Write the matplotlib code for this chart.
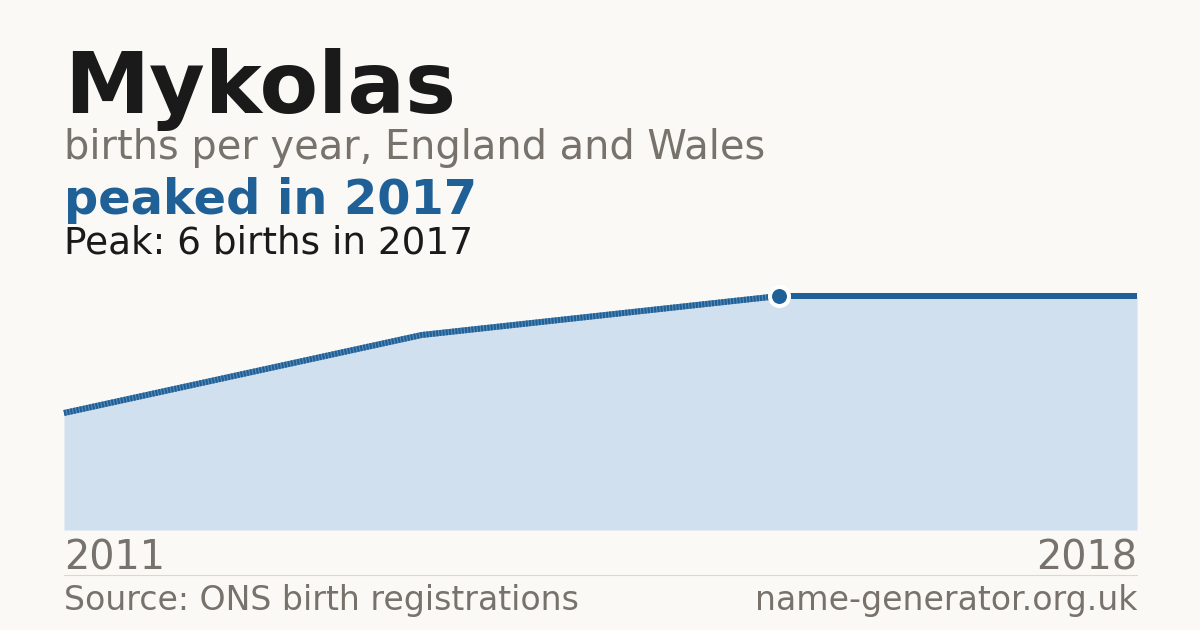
import matplotlib
matplotlib.use("Agg")
import matplotlib.pyplot as plt
from matplotlib.lines import Line2D

plt.rcParams["font.family"] = ["DejaVu Sans"]

# Data
years = [2011, 2014, 2017, 2018]
births = [3, 5, 6, 6]
peak_year = 2017
peak_value = 6
title = "Mykolas"
subtitle = "births per year, England and Wales"
headline = "peaked in 2017"
peak_text = "Peak: 6 births in 2017"
source_text = "Source: ONS birth registrations"
site_text = "name-generator.org.uk"

BG = "#faf9f5"
DARK = "#1a1a1a"
GREY = "#77726b"
BLUE = "#1f6096"
LIGHTBLUE = "#5b8bb8"
FILL = "#d0e0ef"

W, H = 1200, 630
fig = plt.figure(figsize=(W / 100, H / 100), dpi=100, facecolor=BG)

def fy(px):
    return 1 - px / H

def fx(px):
    return px / W

ax = fig.add_axes([fx(64), fy(530), fx(1137) - fx(64), fy(296) - fy(530)])
ax.set_facecolor(BG)
idx = list(range(len(years)))
peak_i = years.index(peak_year)

ax.fill_between(idx, births, 0, color=FILL, linewidth=0)
# dashed part up to the peak
ax.plot(idx[:peak_i + 1], births[:peak_i + 1], color=LIGHTBLUE, lw=4.3,
        solid_capstyle="butt", clip_on=False)
ax.plot(idx[:peak_i + 1], births[:peak_i + 1], color=BLUE, lw=4.3,
        linestyle=(0, (0.36, 0.18)), dash_capstyle="butt", clip_on=False)
# solid part after the peak
ax.plot(idx[peak_i:], births[peak_i:], color=BLUE, lw=4.3,
        solid_capstyle="butt", clip_on=False)
ax.plot([peak_i], [peak_value], marker="o", markersize=13.7,
        markerfacecolor=BLUE, markeredgecolor="white", markeredgewidth=2.9,
        clip_on=False, zorder=5)

ax.set_xlim(0, len(years) - 1)
ax.set_ylim(0, peak_value)
ax.axis("off")

fig.text(fx(64), fy(113), title, fontsize=61.6, fontweight="bold", color=DARK,
         va="baseline", ha="left")
fig.text(fx(64), fy(159), subtitle, fontsize=28.7, color=GREY,
         va="baseline", ha="left")
fig.text(fx(64), fy(214), headline, fontsize=34.5, fontweight="bold", color=BLUE,
         va="baseline", ha="left")
fig.text(fx(64), fy(253), peak_text, fontsize=26.9, color=DARK,
         va="baseline", ha="left")

fig.text(fx(64), fy(570), str(years[0]), fontsize=28.6, color=GREY,
         va="baseline", ha="left")
fig.text(fx(1137), fy(570), str(years[-1]), fontsize=28.6, color=GREY,
         va="baseline", ha="right")

fig.add_artist(Line2D([fx(64), fx(1137)], [fy(574.5), fy(574.5)],
                      transform=fig.transFigure, color="#dcd8d0", lw=0.8))

fig.text(fx(64), fy(610), source_text, fontsize=23.9, color=GREY,
         va="baseline", ha="left")
fig.text(fx(1137), fy(610), site_text, fontsize=23.9, color=GREY,
         va="baseline", ha="right")

fig.savefig("out.png", dpi=100, facecolor=BG)
